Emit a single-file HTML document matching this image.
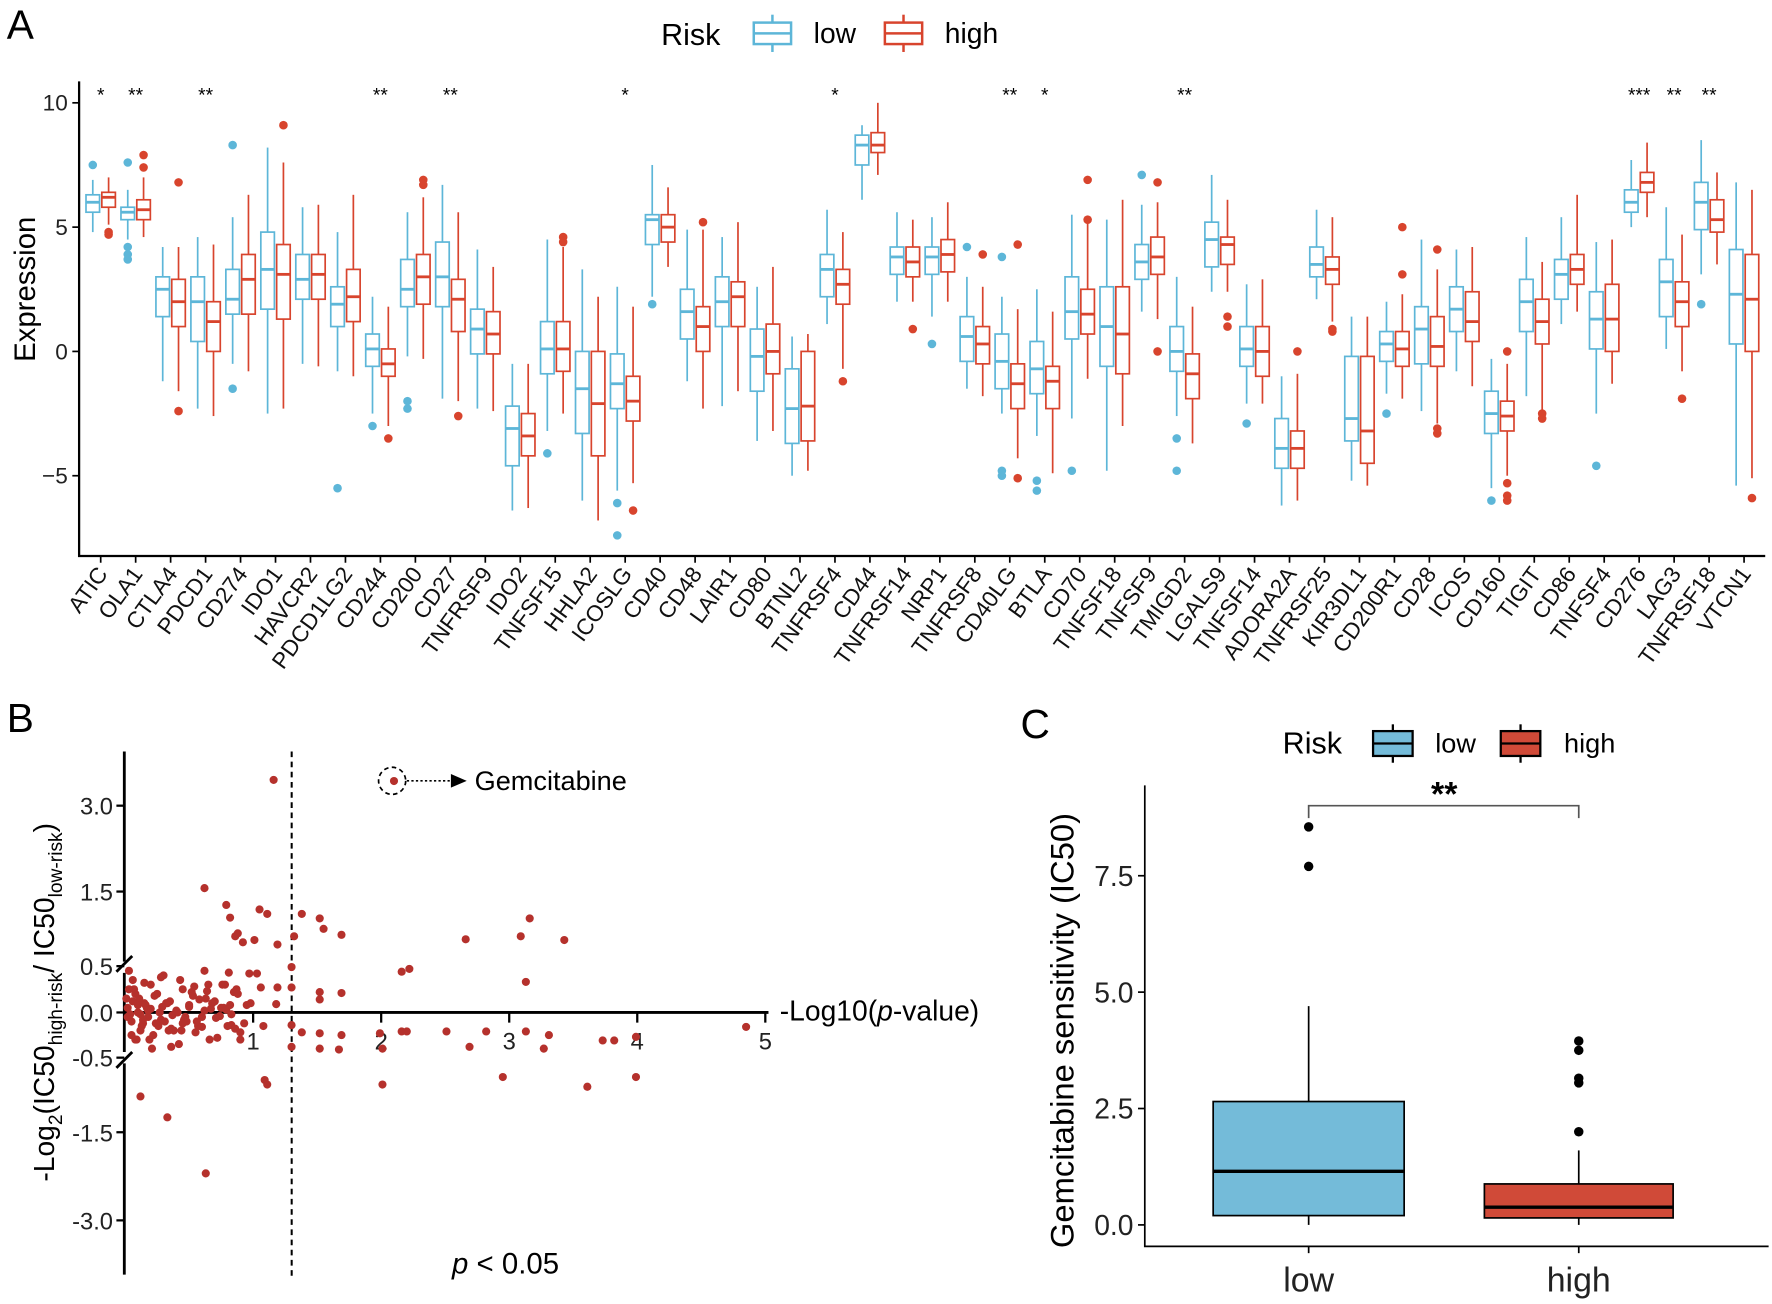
<!DOCTYPE html>
<html><head><meta charset="utf-8"><style>
html,body{margin:0;padding:0;background:#fff;}
svg{display:block;font-family:"Liberation Sans",Arial,sans-serif;}
</style></head><body>
<svg id="fig" width="1772" height="1304" viewBox="0 0 1568 1154" preserveAspectRatio="none" xmlns="http://www.w3.org/2000/svg">
<g id="pa"></g>
<g id="pb"></g>
<g id="pc"></g>
</svg>
<script>
// ---------- Panel A data ----------
const genes = ["ATIC","OLA1","CTLA4","PDCD1","CD274","IDO1","HAVCR2","PDCD1LG2","CD244","CD200","CD27","TNFRSF9","IDO2","TNFSF15","HHLA2","ICOSLG","CD40","CD48","LAIR1","CD80","BTNL2","TNFRSF4","CD44","TNFRSF14","NRP1","TNFRSF8","CD40LG","BTLA","CD70","TNFSF18","TNFSF9","TMIGD2","LGALS9","TNFSF14","ADORA2A","TNFRSF25","KIR3DL1","CD200R1","CD28","ICOS","CD160","TIGIT","CD86","TNFSF4","CD276","LAG3","TNFRSF18","VTCN1"];
// [whiskerLow, q1, median, q3, whiskerHigh]
const lowStats = [[4.8,5.6,6.0,6.3,6.9],[4.5,5.3,5.6,5.8,6.5],[-1.2,1.4,2.5,3.0,4.2],[-2.3,0.4,2.0,3.0,4.6],[-0.5,1.5,2.1,3.3,5.4],[-2.5,1.7,3.3,4.8,8.2],[-0.5,2.1,2.9,3.9,5.8],[-0.8,1.0,1.9,2.6,4.8],[-2.5,-0.6,0.1,0.7,2.2],[-0.2,1.8,2.5,3.7,5.6],[-1.9,1.8,3.0,4.4,6.7],[-2.3,-0.1,0.9,1.7,4.1],[-6.4,-4.6,-3.1,-2.2,-0.5],[-3.2,-0.9,0.1,1.2,4.5],[-6.0,-3.3,-1.5,0.0,3.3],[-5.6,-2.3,-1.3,-0.1,2.6],[2.2,4.3,5.3,5.5,7.5],[-1.2,0.5,1.6,2.5,4.9],[-2.2,1.0,2.0,3.0,4.6],[-3.6,-1.6,-0.2,0.9,2.6],[-5.0,-3.7,-2.3,-0.7,0.6],[1.1,2.2,3.3,3.9,5.7],[6.1,7.5,8.3,8.7,9.1],[2.0,3.1,3.8,4.2,5.6],[1.4,3.1,3.8,4.2,5.4],[-1.5,-0.4,0.6,1.4,3.0],[-2.5,-1.5,-0.4,0.7,2.2],[-3.4,-1.7,-0.7,0.4,2.5],[-2.7,0.5,1.6,3.0,5.5],[-4.8,-0.6,1.0,2.6,5.3],[1.6,2.9,3.6,4.3,5.9],[-2.6,-0.8,0.0,1.0,3.0],[2.4,3.4,4.5,5.2,7.1],[-2.1,-0.6,0.1,1.0,2.7],[-6.2,-4.7,-3.9,-2.7,-1.0],[2.1,3.0,3.5,4.2,5.7],[-5.2,-3.6,-2.7,-0.2,1.4],[-1.7,-0.4,0.3,0.8,2.0],[-2.4,-0.5,0.9,1.8,4.5],[-0.8,0.8,1.7,2.6,4.1],[-5.5,-3.3,-2.5,-1.6,-0.3],[-1.8,0.8,2.0,2.9,4.6],[1.1,2.1,3.1,3.7,5.4],[-2.5,0.1,1.3,2.4,4.4],[5.0,5.6,6.0,6.5,7.7],[0.1,1.4,2.8,3.7,5.8],[3.1,4.9,6.0,6.8,8.5],[-5.4,0.3,2.3,4.1,6.8]];
const highStats = [[5.1,5.8,6.2,6.4,7.0],[4.6,5.3,5.7,6.1,7.0],[-1.6,1.0,2.0,2.9,4.2],[-2.6,0.0,1.2,2.0,4.3],[-0.8,1.5,2.9,3.9,6.3],[-2.3,1.3,3.1,4.3,7.6],[-0.6,2.1,3.1,3.9,5.9],[-1.0,1.2,2.2,3.3,6.3],[-3.0,-1.0,-0.5,0.1,1.8],[-0.3,1.9,3.0,3.9,6.2],[-2.0,0.8,2.1,2.9,5.6],[-2.4,-0.1,0.7,1.6,3.4],[-6.3,-4.2,-3.4,-2.5,-0.5],[-2.5,-0.8,0.1,1.2,4.2],[-6.8,-4.2,-2.1,0.0,2.2],[-5.3,-2.8,-2.0,-1.0,1.8],[3.4,4.4,5.0,5.5,6.6],[-2.3,0.0,1.0,1.8,4.9],[-1.6,1.0,2.2,2.8,5.2],[-3.2,-0.9,0.0,1.1,3.4],[-4.8,-3.6,-2.2,0.0,0.7],[-0.7,1.9,2.7,3.3,4.8],[7.1,8.0,8.3,8.8,10.0],[2.0,3.0,3.6,4.2,5.3],[2.0,3.2,3.9,4.5,6.0],[-1.8,-0.5,0.3,1.0,2.6],[-4.3,-2.3,-1.3,-0.5,1.7],[-4.9,-2.3,-1.2,-0.6,1.6],[-1.1,0.7,1.5,2.5,5.4],[-3.0,-0.9,0.7,2.6,6.1],[1.3,3.1,3.8,4.6,6.0],[-3.7,-1.9,-0.9,-0.1,1.8],[2.4,3.5,4.3,4.6,6.1],[-2.1,-1.0,0.0,1.0,2.9],[-6.0,-4.7,-3.9,-3.2,-0.9],[1.2,2.7,3.3,3.8,5.4],[-5.4,-4.5,-3.2,-0.2,1.4],[-1.9,-0.6,0.1,0.8,2.3],[-2.9,-0.6,0.2,1.4,3.3],[-1.4,0.4,1.2,2.4,4.2],[-5.0,-3.2,-2.6,-2.0,-0.5],[-2.4,0.3,1.2,2.1,3.6],[1.6,2.7,3.3,3.9,6.3],[-1.3,0.0,1.3,2.7,4.5],[5.4,6.4,6.8,7.2,8.4],[-0.8,1.0,2.0,2.8,4.7],[3.5,4.8,5.3,6.1,7.2],[-5.1,0.0,2.1,3.9,6.5]];
const lowOutliers = [[7.5],[7.6,4.2,3.9,3.7],[],[],[8.3,-1.5],[],[],[-5.5],[-3.0],[-2.0,-2.3],[],[],[],[-4.1],[],[-6.1,-7.4],[1.9],[],[],[],[],[],[],[],[0.3],[4.2],[3.8,-4.8,-5.0],[-5.2,-5.6],[-4.8],[],[7.1],[-3.5,-4.8],[],[-2.9],[],[],[],[-2.5],[],[],[-6.0],[],[],[-4.6],[],[],[1.9],[]];
const highOutliers = [[4.8,4.7],[7.9,7.4],[6.8,-2.4],[],[],[9.1],[],[],[-3.5],[6.9,6.7],[-2.6],[],[],[4.6,4.4],[],[-6.4],[],[5.2],[],[],[],[-1.2],[],[0.9],[],[3.9],[4.3,-5.1],[],[6.9,5.3],[],[6.8,0.0],[],[1.4,1.0],[],[0.0],[0.9,0.8],[],[5.0,3.1],[4.1,-3.1,-3.3],[],[0.0,-5.3,-5.8,-6.0],[-2.5,-2.7],[],[],[],[-1.9],[],[-5.9]];
const sigLabels = ["*","**","","**","","","","","**","","**","","","","","*","","","","","","*","","","","","**","*","","","","**","","","","","","","","","","","","","***","**","**",""];
const yTicksA = [-5,0,5,10];

// ---------- Panel B data ----------
const bTicksX = [1,2,3,4,5];
const bTicksY = [-3.0,-1.5,-0.5,0.0,0.5,1.5,3.0];
const bTickLabelsY = ["-3.0","-1.5","-0.5","0.0","0.5","1.5","3.0"];
const bX = [1.16,2.1,0.62,0.79,0.82,1.05,1.11,1.38,1.52,1.55,1.69,0.88,0.92,1.01,0.86,1.19,1.32,2.66,3.09,3.16,3.43,2.16,2.22,1.3,0.62,0.81,0.97,1.03,0.78,1.06,0.64,1.19,1.3,1.52,1.69,1.52,1.18,3.13,
0.83,1.08,1.3,1.38,1.52,1.69,1.3,1.52,1.67,1.99,2.16,2.2,2.51,2.82,3.13,3.31,3.27,3.73,3.82,3.99,4.85,2.01,2.69,1.09,1.11,2.01,2.95,3.61,3.99,0.12,0.33,0.63,
0.02,0.05,0.08,0.1,0.12,0.15,0.18,0.2,0.03,0.06,0.09,0.11,0.14,0.17,0.22,0.25,0.28,0.3,0.33,0.36,0.4,0.42,0.45,0.48,0.5,0.55,0.58,0.6,0.65,0.7,0.75,0.8,0.85,0.9,0.95,
0.04,0.07,0.13,0.16,0.19,0.23,0.27,0.31,0.35,0.38,0.43,0.47,0.52,0.57,0.62,0.68,0.72,0.77,0.83,0.88,0.93,
0.01,0.05,0.1,0.14,0.2,0.26,0.32,0.37,0.44,0.5,0.56,0.63,0.71,0.79,0.86,
0.02,0.06,0.12,0.18,0.24,0.29,0.34,0.41,0.46,0.53,0.6,0.67,0.74,0.82,0.9,0.98,
0.03,0.08,0.15,0.21,0.28,0.36,0.45,0.54,0.66,0.76,0.87];
const bY = [3.45,3.43,1.56,1.32,1.15,1.26,1.2,1.2,1.14,1.0,0.92,0.94,0.82,0.85,0.9,0.79,0.9,0.86,0.9,1.14,0.85,0.44,0.47,0.49,0.45,0.43,0.42,0.42,0.3,0.27,0.23,0.27,0.27,0.22,0.21,0.14,0.09,0.33,
-0.14,-0.15,-0.14,-0.22,-0.23,-0.25,-0.38,-0.4,-0.41,-0.23,-0.21,-0.21,-0.21,-0.21,-0.21,-0.25,-0.4,-0.31,-0.31,-0.27,-0.16,-0.4,-0.38,-0.8,-0.86,-0.86,-0.76,-0.89,-0.76,-1.02,-1.3,-2.2,
0.05,-0.1,0.2,0.0,-0.2,0.1,-0.05,0.3,0.45,0.35,-0.3,0.15,-0.12,0.05,-0.25,0.2,-0.08,0.4,0.1,-0.18,0.02,-0.35,0.25,-0.1,0.08,-0.22,0.14,-0.05,0.3,0.12,0.05,-0.15,0.22,-0.3,0.08,
-0.02,0.25,-0.15,0.08,-0.3,0.18,0.0,-0.1,0.12,-0.2,0.35,-0.05,0.22,-0.15,0.02,0.1,-0.28,0.05,-0.02,0.2,-0.12,
0.15,-0.25,0.08,-0.08,0.04,-0.15,0.1,-0.03,-0.2,0.06,-0.1,0.15,-0.06,0.03,-0.18,
-0.05,0.12,-0.02,0.02,-0.12,0.06,-0.2,0.0,-0.08,0.18,-0.16,0.04,-0.04,0.08,-0.22,0.1,
0.25,-0.3,0.32,-0.4,0.38,-0.38,-0.12,0.28,-0.3,0.3,0.25];

// ---------- Panel C data ----------
const cGroups = ["low","high"];
const cStats = [[0.0,0.2,1.15,2.65,4.7],[0.0,0.15,0.38,0.88,1.6]];
const cOutliers = [[7.7,8.55],[2.0,3.05,3.15,3.75,3.95]];
const cTicks = [0.0,2.5,5.0,7.5];
const cTickLabels = ["0.0","2.5","5.0","7.5"];

const NS="http://www.w3.org/2000/svg";
function mk(parent,tag,attrs,txt){const e=document.createElementNS(NS,tag);for(const k in attrs)e.setAttribute(k,attrs[k]);if(txt!==undefined)e.textContent=txt;parent.appendChild(e);return e;}
const BLUE="#5db6d8", RED="#d8442d";

// ---------- Panel A draw ----------
const pa=document.getElementById('pa');
const ayA=v=>311-22*v;
const axA=i=>89.1+30.94*i;
let t=mk(pa,'text',{x:6,y:34,'font-size':36},'A');


t=mk(pa,'text',{x:585,y:40,'font-size':27},'Risk');


[[BLUE,667,'low',720],[RED,783,'high',836]].forEach(function(L){
  const g=mk(pa,'g',{});
  
  
  mk(g,'rect',{x:L[1],y:20,width:33,height:19,fill:'none',stroke:L[0],'stroke-width':2.2});
  mk(g,'line',{x1:L[1],x2:L[1]+33,y1:29.5,y2:29.5,stroke:L[0],'stroke-width':2.2});
  mk(g,'line',{x1:L[1]+16.5,x2:L[1]+16.5,y1:13,y2:20,stroke:L[0],'stroke-width':2.2});
  mk(g,'line',{x1:L[1]+16.5,x2:L[1]+16.5,y1:39,y2:46,stroke:L[0],'stroke-width':2.2});
  mk(g,'text',{x:L[3],y:38,'font-size':25},L[2]);
});
let ax=mk(pa,'path',{d:'M70,72 L70,492 L1562,492',fill:'none',stroke:'#000','stroke-width':2});


yTicksA.forEach(function(v){
  mk(pa,'line',{x1:64,x2:70,y1:ayA(v),y2:ayA(v),stroke:'#000','stroke-width':1.5});
  const tl=mk(pa,'text',{x:60,y:ayA(v)+7,'font-size':20,'text-anchor':'end',fill:'#222'},v<0?'\u2212'+Math.abs(v):String(v));
  
  
});
t=mk(pa,'text',{x:0,y:0,'font-size':26,'text-anchor':'middle',transform:'translate(31,256) rotate(-90)'},'Expression');


function boxA(g,cx,s,outs,col){
  const w=12;
  mk(g,'line',{x1:cx,x2:cx,y1:ayA(s[4]),y2:ayA(s[3]),stroke:col,'stroke-width':1.5});
  mk(g,'line',{x1:cx,x2:cx,y1:ayA(s[1]),y2:ayA(s[0]),stroke:col,'stroke-width':1.5});
  mk(g,'rect',{x:cx-w/2,y:ayA(s[3]),width:w,height:ayA(s[1])-ayA(s[3]),fill:'#fff',stroke:col,'stroke-width':1.5});
  mk(g,'line',{x1:cx-w/2,x2:cx+w/2,y1:ayA(s[2]),y2:ayA(s[2]),stroke:col,'stroke-width':2.5});
  outs.forEach(function(o){mk(g,'circle',{cx:cx,cy:ayA(o),r:3.8,fill:col});});
}
genes.forEach(function(gn,i){
  const cx=axA(i);
  const g=mk(pa,'g',{});
  
  
  boxA(g,cx-7,lowStats[i],lowOutliers[i],BLUE);
  boxA(g,cx+7,highStats[i],highOutliers[i],RED);
  mk(pa,'line',{x1:cx,x2:cx,y1:492,y2:498,stroke:'#000','stroke-width':1.5});
  const lb=mk(pa,'text',{x:0,y:0,'font-size':20,'text-anchor':'end',fill:'#111',transform:'translate('+(cx+7)+',508) rotate(-54)'},gn);
  
  
  if(sigLabels[i]){
    const s=mk(pa,'text',{x:cx,y:90,'font-size':17,'text-anchor':'middle'},sigLabels[i]);
    
    
  }
});

// ---------- Panel B draw ----------
const pb=document.getElementById('pb');
const bTickPix=[1080,1002,936,896,855,789,713];
function byB(v){
  for(let k=0;k<bTicksY.length-1;k++){
    if(v<=bTicksY[k+1]||k===bTicksY.length-2){
      const a=bTicksY[k],b=bTicksY[k+1];
      return bTickPix[k]+(v-a)/(b-a)*(bTickPix[k+1]-bTickPix[k]);
    }
  }
}
const bxB=v=>110.7+113.3*v;
t=mk(pb,'text',{x:6,y:648,'font-size':36},'B');


ax=mk(pb,'path',{d:'M110,665 L110,851 M110,861 L110,931 M110,941 L110,1128',fill:'none',stroke:'#000','stroke-width':2.5});


mk(pb,'path',{d:'M103,860 L117,846 M103,945 L117,931',stroke:'#000','stroke-width':2.5});
ax=mk(pb,'line',{x1:110,x2:680,y1:896,y2:896,stroke:'#000','stroke-width':2.5});


bTicksY.forEach(function(v,k){
  mk(pb,'line',{x1:103,x2:110,y1:byB(v),y2:byB(v),stroke:'#000','stroke-width':2});
  const tl=mk(pb,'text',{x:100,y:byB(v)+8,'font-size':21,'text-anchor':'end',fill:'#222'},bTickLabelsY[k]);
  
  
});
bTicksX.forEach(function(v){
  mk(pb,'line',{x1:bxB(v),x2:bxB(v),y1:896,y2:905,stroke:'#000','stroke-width':2});
  const tl=mk(pb,'text',{x:bxB(v),y:929,'font-size':21,'text-anchor':'middle',fill:'#222'},String(v));
  
  
});
ax=mk(pb,'line',{x1:bxB(1.301),x2:bxB(1.301),y1:665,y2:1130,stroke:'#000','stroke-width':1.8,'stroke-dasharray':'5,4'});


bX.forEach(function(x,i){
  const c=mk(pb,'circle',{cx:bxB(x),cy:byB(bY[i]),r:3.6,fill:'#b5312c'});
  
  
});
mk(pb,'circle',{cx:347,cy:691,r:12,fill:'none',stroke:'#000','stroke-width':1.5,'stroke-dasharray':'4,3'});
mk(pb,'line',{x1:360,x2:400,y1:691,y2:691,stroke:'#000','stroke-width':1.5,'stroke-dasharray':'2,2'});
mk(pb,'path',{d:'M399,685 L413,691 L399,697 Z',fill:'#000'});
t=mk(pb,'text',{x:420,y:699,'font-size':24},'Gemcitabine');


t=mk(pb,'text',{x:690,y:903,'font-size':25});
t.innerHTML='-Log10(<tspan font-style="italic">p</tspan>-value)';


t=mk(pb,'text',{x:400,y:1127,'font-size':26});
t.innerHTML='<tspan font-style="italic">p</tspan> &lt; 0.05';


t=mk(pb,'text',{x:0,y:0,'font-size':25,'text-anchor':'middle',transform:'translate(48,887) rotate(-90)'});
t.innerHTML='-Log<tspan font-size="17" dy="7">2</tspan><tspan dy="-7">(IC50</tspan><tspan font-size="17" dy="7">high-risk</tspan><tspan dy="-7">/ IC50</tspan><tspan font-size="17" dy="7">low-risk</tspan><tspan dy="-7">)</tspan>';



// ---------- Panel C draw ----------
const pc=document.getElementById('pc');
const ayC=v=>1084-41.2*v;
const cCenters=[1158,1397];
t=mk(pc,'text',{x:903,y:653,'font-size':36},'C');


t=mk(pc,'text',{x:1135,y:667,'font-size':27},'Risk');


[["#74bbd9",1215,'low',1270],["#d04a38",1328,'high',1384]].forEach(function(L){
  const g=mk(pc,'g',{});
  
  
  mk(g,'rect',{x:L[1],y:647,width:35,height:22,fill:L[0],stroke:'#000','stroke-width':2});
  mk(g,'line',{x1:L[1],x2:L[1]+35,y1:658,y2:658,stroke:'#000','stroke-width':2});
  mk(g,'line',{x1:L[1]+17.5,x2:L[1]+17.5,y1:641,y2:647,stroke:'#000','stroke-width':2});
  mk(g,'line',{x1:L[1]+17.5,x2:L[1]+17.5,y1:669,y2:675,stroke:'#000','stroke-width':2});
  mk(g,'text',{x:L[3],y:666,'font-size':24},L[2]);
});
ax=mk(pc,'path',{d:'M1013,695 L1013,1103 L1565,1103',fill:'none',stroke:'#000','stroke-width':1.5});


cTicks.forEach(function(v,k){
  mk(pc,'line',{x1:1007,x2:1013,y1:ayC(v),y2:ayC(v),stroke:'#000','stroke-width':1.5});
  const tl=mk(pc,'text',{x:1003,y:ayC(v)+9,'font-size':25,'text-anchor':'end',fill:'#222'},cTickLabels[k]);
  
  
});
t=mk(pc,'text',{x:0,y:0,'font-size':29,'text-anchor':'middle',transform:'translate(950,912) rotate(-90)'},'Gemcitabine sensitivity (IC50)');


const cFill=["#74bbd9","#d04a38"];
const cHalf=[84.5,83.5];
cGroups.forEach(function(gn,i){
  const cx=cCenters[i],s=cStats[i],hw=cHalf[i];
  const g=mk(pc,'g',{});
  
  
  mk(g,'line',{x1:cx,x2:cx,y1:ayC(s[4]),y2:ayC(s[3]),stroke:'#000','stroke-width':1.5});
  mk(g,'line',{x1:cx,x2:cx,y1:ayC(s[1]),y2:ayC(s[0]),stroke:'#000','stroke-width':1.5});
  mk(g,'rect',{x:cx-hw,y:ayC(s[3]),width:2*hw,height:ayC(s[1])-ayC(s[3]),fill:cFill[i],stroke:'#000','stroke-width':1.5});
  mk(g,'line',{x1:cx-hw,x2:cx+hw,y1:ayC(s[2]),y2:ayC(s[2]),stroke:'#000','stroke-width':3});
  cOutliers[i].forEach(function(o){mk(g,'circle',{cx:cx,cy:ayC(o),r:4.2,fill:'#000'});});
  mk(pc,'line',{x1:cx,x2:cx,y1:1103,y2:1109,stroke:'#000','stroke-width':1.5});
  const lb=mk(pc,'text',{x:cx,y:1143,'font-size':30,'text-anchor':'middle',fill:'#222'},gn);
  
  
});
ax=mk(pc,'path',{d:'M1158,724 L1158,713 L1397,713 L1397,724',fill:'none',stroke:'#555','stroke-width':1.5});


t=mk(pc,'text',{x:1278,y:713,'font-size':30,'text-anchor':'middle','font-weight':'bold'},'**');


</script>
</body></html>
